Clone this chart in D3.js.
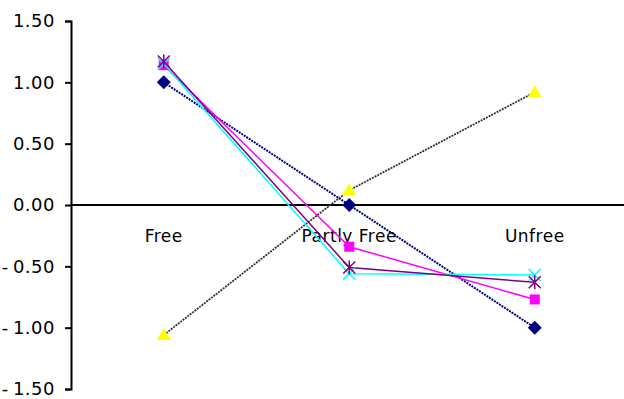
<!DOCTYPE html>
<html>
<head>
<meta charset="utf-8">
<script src="https://cdn.jsdelivr.net/npm/d3@7"></script>
<style>
  body { margin: 0; background: #fff; }
  text { font-family: "DejaVu Sans", sans-serif; }
</style>
</head>
<body>
<div id="chart"></div>
<script>
var categories = ["Free", "Partly Free", "Unfree"]
var yTicks = [1.5, 1.0, 0.5, 0.0, -0.5, -1.0, -1.5]

// one array per series, Excel default order
var navyDiamond = [1.00, 0.00, -1.00]
var magentaSquare = [1.14, -0.34, -0.77]
var yellowTriangle = [-1.06, 0.12, 0.92]
var cyanCross = [1.15, -0.56, -0.57]
var purpleStar = [1.17, -0.51, -0.63]

var width = 624, height = 399
var margin = {top: 21, right: 0, bottom: 10, left: 71}

var svg = d3.select("#chart")
    .append("svg")
    .attr("width", width)
    .attr("height", height)

var x = d3.scaleBand()
    .domain(categories)
    .range([margin.left, margin.left + 3 * 185.5])

var y = d3.scaleLinear()
    .domain([-1.5, 1.5])
    .range([height - margin.bottom, margin.top])

// y axis
var yAxis = d3.axisLeft(y)
    .tickValues(yTicks)
    .tickSize(6)
    .tickPadding(10)
    .tickFormat(d3.format(".2f"))

var gy = svg.append("g")
    .attr("transform", "translate(" + margin.left + ",0)")
    .call(yAxis)
gy.select(".domain").attr("stroke", "#000").attr("stroke-width", 2)
gy.selectAll(".tick line").attr("stroke", "#000").attr("stroke-width", 2)
gy.selectAll(".tick text")
    .style("font-size", "18px")
    .style("letter-spacing", "0.5px")
    .attr("fill", "#000")
    .text(function (d) {
        var s = d3.format(".2f")(Math.abs(d))
        return d < 0 ? "-\u2009" + s : s
    })

// x axis line at zero
svg.append("line")
    .attr("x1", margin.left)
    .attr("x2", width)
    .attr("y1", y(0))
    .attr("y2", y(0))
    .attr("stroke", "#000")
    .attr("stroke-width", 2)

svg.selectAll(".cat")
    .data(categories)
    .enter()
    .append("text")
    .attr("class", "cat")
    .attr("x", function (d) { return x(d) + x.bandwidth() / 2 })
    .attr("y", y(0) + 37)
    .attr("text-anchor", "middle")
    .style("font-size", "17px")
    .style("letter-spacing", "0.5px")
    .text(function (d) { return d })

var series = [
    {values: navyDiamond, line: "#000080", marker: "diamond", color: "#000080", dash: "2,1", lw: 2},
    {values: magentaSquare, line: "#ff00ff", marker: "square", color: "#ff00ff", dash: null, lw: 1.5},
    {values: yellowTriangle, line: "#333333", marker: "triangle", color: "#ffff00", dash: "2,1", lw: 1.8},
    {values: cyanCross, line: "#00ffff", marker: "cross", color: "#00ffff", dash: null, lw: 1.5},
    {values: purpleStar, line: "#800080", marker: "star", color: "#800080", dash: null, lw: 1.5}
]

var line = d3.line()
    .x(function (d, i) { return x(categories[i]) + x.bandwidth() / 2 })
    .y(function (d) { return y(d) })

series.forEach(function (s) {
    svg.append("path")
        .datum(s.values)
        .attr("d", line)
        .attr("fill", "none")
        .attr("stroke", s.line)
        .attr("stroke-width", s.lw)
        .attr("stroke-dasharray", s.dash)
})

function drawMarker(g, type, color) {
    if (type == "diamond") {
        g.append("path").attr("d", "M0,-7L7,0L0,7L-7,0Z").attr("fill", color)
    } else if (type == "square") {
        g.append("rect").attr("x", -5).attr("y", -5).attr("width", 10).attr("height", 10).attr("fill", color)
    } else if (type == "triangle") {
        g.append("path").attr("d", "M0,-7L7,5L-7,5Z").attr("fill", color)
    } else if (type == "cross") {
        g.append("path").attr("d", "M-6,-6L6,6M6,-6L-6,6").attr("stroke", color).attr("stroke-width", 1.5)
    } else if (type == "star") {
        g.append("path").attr("d", "M-6,-6L6,6M6,-6L-6,6M0,-7L0,7").attr("stroke", color).attr("stroke-width", 1.5)
    }
}

series.forEach(function (s) {
    s.values.forEach(function (v, i) {
        var g = svg.append("g")
            .attr("transform", "translate(" + (x(categories[i]) + x.bandwidth() / 2) + "," + y(v) + ")")
        drawMarker(g, s.marker, s.color)
    })
})
</script>
</body>
</html>
